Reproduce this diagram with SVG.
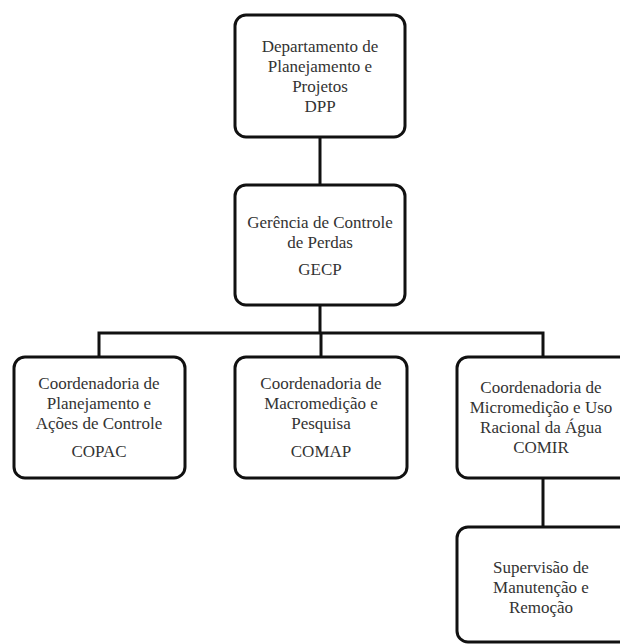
<svg xmlns="http://www.w3.org/2000/svg" width="620" height="644" viewBox="0 0 620 644">
<style>
.box{fill:#fff;stroke:#111;stroke-width:3}
.t{font-family:"Liberation Serif","Times New Roman",serif;font-size:17px;fill:#333;text-anchor:middle}
.c{stroke:#111;stroke-width:3;fill:none}
</style>
<rect width="620" height="644" fill="#fff"/>
<g id="connectors">
<line class="c" x1="320" y1="137" x2="320" y2="185"/>
<line class="c" x1="320" y1="305" x2="320" y2="333"/>
<polyline class="c" points="99,357 99,333 543,333 543,357"/>
<line class="c" x1="321" y1="333" x2="321" y2="357"/>
<line class="c" x1="543" y1="478" x2="543" y2="527"/>
</g>
<g id="dpp">
<rect class="box" x="235" y="15" width="170" height="122" rx="11"/>
<text class="t" x="320" y="52">Departamento de</text>
<text class="t" x="320" y="72">Planejamento e</text>
<text class="t" x="320" y="92">Projetos</text>
<text class="t" x="320" y="112">DPP</text>
</g>
<g id="gecp">
<rect class="box" x="235" y="185" width="170" height="120" rx="11"/>
<text class="t" x="320" y="228">Gerência de Controle</text>
<text class="t" x="320" y="248">de Perdas</text>
<text class="t" x="320" y="275">GECP</text>
</g>
<g id="copac">
<rect class="box" x="14" y="357" width="171" height="121" rx="11"/>
<text class="t" x="99" y="389">Coordenadoria de</text>
<text class="t" x="99" y="409">Planejamento e</text>
<text class="t" x="99" y="429">Ações de Controle</text>
<text class="t" x="99" y="457">COPAC</text>
</g>
<g id="comap">
<rect class="box" x="235" y="357" width="172" height="121" rx="11"/>
<text class="t" x="321" y="389">Coordenadoria de</text>
<text class="t" x="321" y="409">Macromedição e</text>
<text class="t" x="321" y="429">Pesquisa</text>
<text class="t" x="321" y="457">COMAP</text>
</g>
<g id="comir">
<rect class="box" x="457" y="357" width="175" height="121" rx="11"/>
<text class="t" x="541" y="393">Coordenadoria de</text>
<text class="t" x="541" y="413">Micromedição e Uso</text>
<text class="t" x="541" y="433">Racional da Água</text>
<text class="t" x="541" y="453">COMIR</text>
</g>
<g id="supervisao">
<rect class="box" x="457" y="527" width="175" height="115" rx="11"/>
<text class="t" x="541" y="573">Supervisão de</text>
<text class="t" x="541" y="593">Manutenção e</text>
<text class="t" x="541" y="613">Remoção</text>
</g>
</svg>
